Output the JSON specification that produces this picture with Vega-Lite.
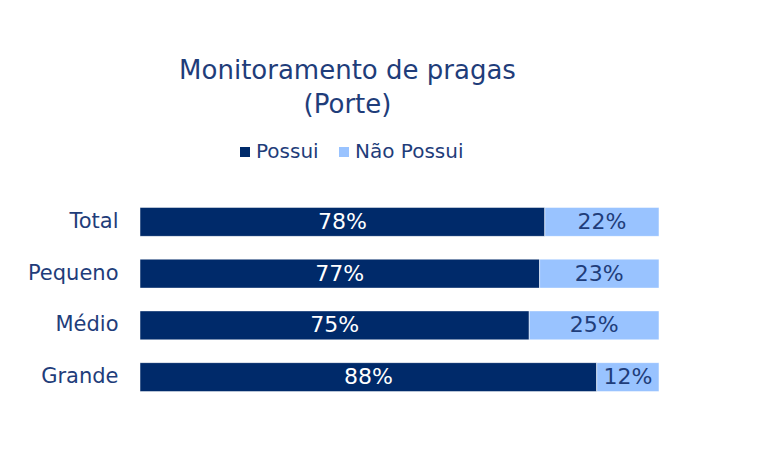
{
  "$schema": "https://vega.github.io/schema/vega-lite/v6.json",
  "description": "Monitoramento de pragas por porte",
  "autosize": {"type": "none"},
  "padding": {"left": 140, "top": 196, "right": 98, "bottom": 58},
  "width": 519,
  "height": 207,
  "background": "white",
  "title": {
    "text": ["Monitoramento de pragas", "(Porte)"],
    "font": "DejaVu Sans",
    "fontSize": 26,
    "fontWeight": "normal",
    "color": "#1f3d7a",
    "lineHeight": 34,
    "anchor": "middle",
    "dx": -52,
    "offset": 24
  },
  "data": {
    "values": [
      {"porte": "Total", "tipo": "Possui", "valor": 0.78},
      {"porte": "Total", "tipo": "Não Possui", "valor": 0.22},
      {"porte": "Pequeno", "tipo": "Possui", "valor": 0.77},
      {"porte": "Pequeno", "tipo": "Não Possui", "valor": 0.23},
      {"porte": "Médio", "tipo": "Possui", "valor": 0.75},
      {"porte": "Médio", "tipo": "Não Possui", "valor": 0.25},
      {"porte": "Grande", "tipo": "Possui", "valor": 0.88},
      {"porte": "Grande", "tipo": "Não Possui", "valor": 0.12}
    ]
  },
  "transform": [
    {"calculate": "indexof(['Possui', 'Não Possui'], datum.tipo)", "as": "ordem"},
    {"stack": "valor", "groupby": ["porte"], "sort": [{"field": "ordem"}], "as": ["v0", "v1"]},
    {"calculate": "(datum.v0 + datum.v1) / 2", "as": "meio"}
  ],
  "encoding": {
    "y": {
      "field": "porte",
      "type": "nominal",
      "sort": ["Total", "Pequeno", "Médio", "Grande"],
      "scale": {"paddingInner": 0.44, "paddingOuter": 0.22},
      "axis": {
        "title": null,
        "domain": false,
        "ticks": false,
        "labelPadding": 22,
        "labelFont": "DejaVu Sans",
        "labelFontSize": 21,
        "labelColor": "#1f3d7a"
      }
    }
  },
  "layer": [
    {
      "mark": {"type": "bar", "stroke": "white", "strokeWidth": 0.5},
      "encoding": {
        "x": {
          "field": "v0",
          "type": "quantitative",
          "scale": {"domain": [0, 1], "nice": false},
          "axis": null
        },
        "x2": {"field": "v1"},
        "color": {
          "field": "tipo",
          "type": "nominal",
          "sort": ["Possui", "Não Possui"],
          "scale": {"domain": ["Possui", "Não Possui"], "range": ["#002a6a", "#99c3ff"]},
          "legend": {
            "title": null,
            "orient": "none",
            "direction": "horizontal",
            "legendX": 95,
            "legendY": -54,
            "symbolType": "square",
            "symbolSize": 100,
            "symbolStrokeWidth": 0,
            "labelFont": "DejaVu Sans",
            "labelFontSize": 20,
            "labelColor": "#1f3d7a",
            "columnPadding": 15,
            "labelOffset": 1
          }
        }
      }
    },
    {
      "mark": {"type": "text", "font": "DejaVu Sans", "fontSize": 22, "baseline": "middle", "align": "center"},
      "encoding": {
        "x": {"field": "meio", "type": "quantitative"},
        "text": {"field": "valor", "type": "quantitative", "format": ".0%"},
        "color": {
          "condition": {"test": "datum.tipo === 'Possui'", "value": "white"},
          "value": "#1f3d7a"
        }
      }
    }
  ],
  "config": {"view": {"stroke": null}}
}
